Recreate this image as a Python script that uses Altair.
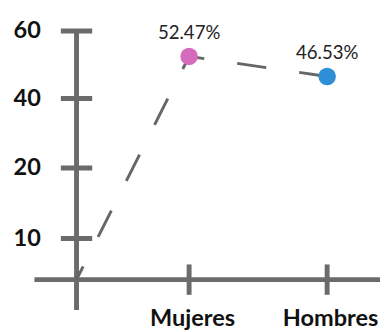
import altair as alt
import pandas as pd

# ---- data ----
categories = ["Mujeres", "Hombres"]
values = [52.47, 46.53]
value_labels = ["52.47%", "46.53%"]
point_colors = ["#d66bbd", "#2e8fd8"]
y_tick_values = [10, 20, 40, 60]
origin_value = 0

# ---- tables ----
points_df = pd.DataFrame({
    "idx": list(range(1, len(categories) + 1)),
    "category": categories,
    "value": values,
    "label": value_labels,
})
line_df = pd.DataFrame({
    "idx": [0] + list(range(1, len(categories) + 1)),
    "value": [origin_value] + values,
})
yticks_df = pd.DataFrame({"value": y_tick_values})
xticks_df = pd.DataFrame({"idx": list(range(1, len(categories) + 1))})

# ---- style ----
W, H = 310, 262
AX = "#6b6b6b"
FONT = "Lato"

x_scale = alt.Scale(domain=[0, 1, 2], range=[0, 115, 256], nice=False, zero=False)
y_scale = alt.Scale(domain=[0, 10, 20, 40, 60], range=[262, 220, 148, 77, 8], nice=False, zero=False)

label_expr = " : ".join(
    [f"datum.value == {i + 1} ? '{c}'" for i, c in enumerate(categories)] + ["''"]
)

x_axis = alt.Axis(values=[1, 2], labelExpr=label_expr, domain=False, ticks=False, grid=False,
                  labelFont=FONT, labelFontWeight="bold", labelFontSize=24, labelColor="#111111",
                  labelPadding=28, labelOffset=3, title=None, labelAngle=0,
                  labelFlush=False, labelOverlap=False, labelBound=False)
y_axis = alt.Axis(values=y_tick_values, domain=False, ticks=False, grid=False,
                  labelFont=FONT, labelFontWeight="bold", labelFontSize=24, labelColor="#111111",
                  labelPadding=37, title=None, labelFlush=False, labelOverlap=False)

# axis lines
x_line = alt.Chart(pd.DataFrame({"v": [origin_value]})).mark_rule(
    color=AX, strokeWidth=5
).encode(
    y=alt.Y("v:Q", scale=y_scale, axis=y_axis),
    x=alt.value(-43),
    x2=alt.value(W),
)
y_line = alt.Chart(pd.DataFrame({"v": [max(y_tick_values)]})).mark_rule(
    color=AX, strokeWidth=5
).encode(
    x=alt.X(datum=0, type="quantitative", scale=x_scale, axis=x_axis),
    y=alt.Y("v:Q", scale=y_scale),
    y2=alt.value(293),
)

ytick_marks = alt.Chart(yticks_df).mark_tick(
    orient="horizontal", color=AX, thickness=5, size=32, opacity=1
).encode(
    y=alt.Y("value:Q", scale=y_scale),
    x=alt.X(datum=0, type="quantitative", scale=x_scale),
)
xtick_marks = alt.Chart(xticks_df).mark_tick(
    orient="vertical", color=AX, thickness=5, size=31, opacity=1
).encode(
    x=alt.X("idx:Q", scale=x_scale),
    y=alt.Y(datum=0, type="quantitative", scale=y_scale),
)

dashed = alt.Chart(line_df).mark_line(
    color="#666666", strokeWidth=3, strokeDash=[30, 34], strokeDashOffset=15
).encode(
    x=alt.X("idx:Q", scale=x_scale),
    y=alt.Y("value:Q", scale=y_scale),
)

pts = alt.Chart(points_df).mark_circle(size=320, opacity=1).encode(
    x=alt.X("idx:Q", scale=x_scale),
    y=alt.Y("value:Q", scale=y_scale),
    color=alt.Color("category:N", scale=alt.Scale(domain=categories, range=point_colors), legend=None),
)

txt = alt.Chart(points_df).mark_text(
    font=FONT, fontSize=19, color="#222222", dy=-18, baseline="alphabetic", align="center"
).encode(
    x=alt.X("idx:Q", scale=x_scale),
    y=alt.Y("value:Q", scale=y_scale),
    text="label:N",
)

chart = alt.layer(x_line, y_line, ytick_marks, xtick_marks, dashed, pts, txt).properties(
    width=W, height=H,
    padding={"left": 70, "top": 12, "right": 0, "bottom": 48},
    autosize=alt.AutoSizeParams(type="none"),
).configure_view(stroke=None)

chart.save("out.html", embed_options={"renderer": "svg", "actions": False})
